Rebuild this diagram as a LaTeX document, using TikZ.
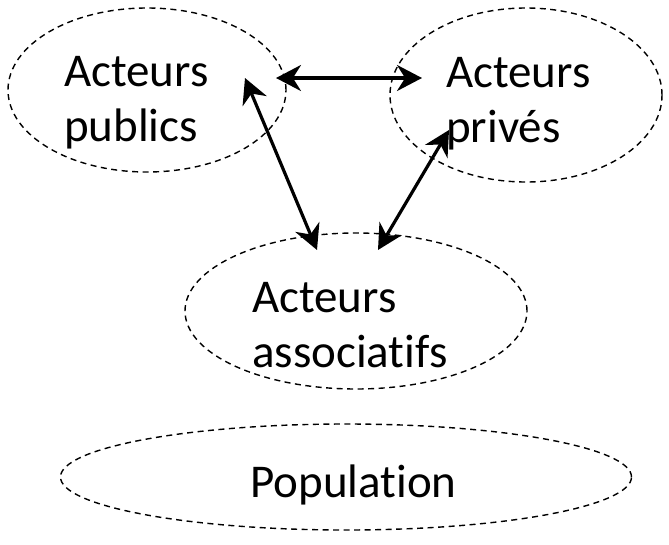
\documentclass[tikz,border=0pt]{standalone}
\usepackage{fontspec}
\setmainfont{Carlito}[Ligatures=NoCommon]
\usetikzlibrary{positioning, shapes, arrows.meta}

\begin{document}
\begin{tikzpicture}
        [
            x=1pt, y=-1pt,
            group/.style={ellipse, draw, dash pattern=on 6pt off 4.5pt,
                          line width=1.4pt, inner sep=0pt},
            word/.style={anchor=north west, inner sep=0pt, align=left,
                         font=\fontsize{47}{55}\selectfont},
            link/.style={{Stealth[length=25pt,width=26pt]}-{Stealth[length=25pt,width=26pt]},
                         line width=3.2pt}
        ]
        \useasboundingbox (0,0) rectangle (669,544);
        % the four groups
        \node (pub) [group, minimum width=278pt, minimum height=164pt] at (147,90) {};
        \node (priv) [group, minimum width=272pt, minimum height=174pt] at (526,95) {};
        \node (asso) [group, minimum width=342pt, minimum height=156pt] at (356,311) {};
        \node (popu) [group, minimum width=571pt, minimum height=106pt] at (346,477) {};
        \node (pub-t) [word] at (64,56) {Acteurs\\publics};
        \node (priv-t) [word] at (446,57) {Acteurs\\privés};
        \node (asso-t) [word] at (252,282) {Acteurs\\associatifs};
        \node (popu-t) [word] at (250,465) {Population};
        % arrow ends
        \coordinate (pub-e) at (276,78);
        \coordinate (priv-w) at (422,78);
        \coordinate (pub-s) at (245,78);
        \coordinate (asso-nw) at (317,250);
        \coordinate (priv-s) at (449,130);
        \coordinate (asso-ne) at (378,250);
        \foreach \a/\b in {pub-e/priv-w, pub-s/asso-nw, priv-s/asso-ne}
            \draw [link] (\a) -- (\b);
\end{tikzpicture}
\end{document}
